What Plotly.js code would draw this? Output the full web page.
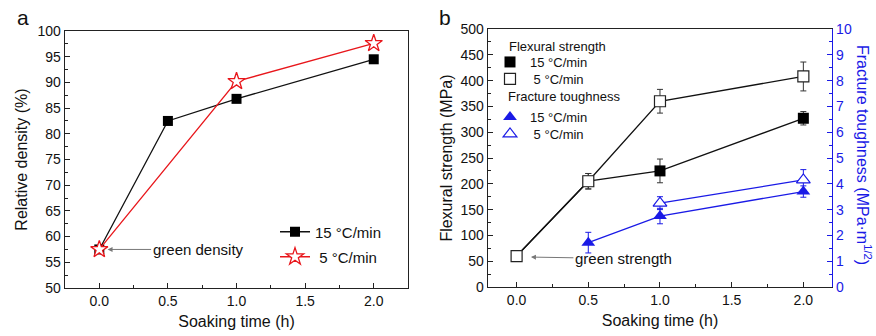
<!DOCTYPE html>
<html><head><meta charset="utf-8">
<script src="https://cdn.plot.ly/plotly-3.0.1.min.js"></script>
<style>html,body{margin:0;padding:0;background:#fff}#c{width:876px;height:336px}</style>
</head><body><div id="c"></div>
<script>
// Panel a: relative density
const timeA15 = [0, 0.5, 1.0, 2.0];
const dens15 = [57.5, 82.5, 86.8, 94.5];
const timeA5 = [0, 1.0, 2.0];
const dens5 = [57.5, 90.2, 97.6];
// Panel b: flexural strength (MPa)
const timeF = [0, 0.5, 1.0, 2.0];
const flex15 = [60, 205, 225, 327];
const flex15Err = [0, 15, 23, 13];
const flex5 = [60, 205, 360, 408];
const flex5Err = [4, 15, 23, 28];
// Panel b: fracture toughness (MPa·m^1/2)
const timeT15 = [0.5, 1.0, 2.0];
const tough15 = [1.72, 2.75, 3.7];
const tough15Err = [0.4, 0.3, 0.22];
const timeT5 = [1.0, 2.0];
const tough5 = [3.25, 4.15];
const tough5Err = [0.25, 0.4];

const FONT = 'Liberation Sans, Arial, sans-serif';
const BLUE = '#1a1ae6';

const traces = [
  {x: timeA15, y: dens15, mode: 'lines+markers', name: '15 °C/min', xaxis: 'x', yaxis: 'y',
   line: {color: '#111', width: 1.3}, marker: {symbol: 'square', size: 10, color: '#000'}, legend: 'legend'},
  {x: timeA5, y: dens5, mode: 'lines+markers', name: ' 5 °C/min', xaxis: 'x', yaxis: 'y',
   line: {color: '#e8161b', width: 1.3}, marker: {symbol: 'star', size: 13, color: '#fff', line: {color: '#e8161b', width: 1.3}}, legend: 'legend2'},
  // lines for flexural
  {x: timeF, y: flex15, mode: 'lines', xaxis: 'x2', yaxis: 'y2', showlegend: false, line: {color: '#111', width: 1.3}},
  {x: timeF, y: flex5, mode: 'lines', xaxis: 'x2', yaxis: 'y2', showlegend: false, line: {color: '#111', width: 1.3}},
  // toughness lines
  {x: timeT15, y: tough15, mode: 'lines', xaxis: 'x2', yaxis: 'y3', showlegend: false, line: {color: BLUE, width: 1.3}},
  {x: timeT5, y: tough5, mode: 'lines', xaxis: 'x2', yaxis: 'y3', showlegend: false, line: {color: BLUE, width: 1.3}},
  // markers
  {x: timeF.slice(1), y: flex15.slice(1), mode: 'markers', name: '15 °C/min', xaxis: 'x2', yaxis: 'y2',
   marker: {symbol: 'square', size: 11, color: '#000'},
   error_y: {type: 'data', array: flex15Err.slice(1), color: '#333', thickness: 1, width: 3},
   legend: 'legend3'},
  {x: timeF, y: flex5, mode: 'markers', name: ' 5 °C/min', xaxis: 'x2', yaxis: 'y2',
   marker: {symbol: 'square', size: 11, color: '#fff', line: {color: '#222', width: 1.2}},
   error_y: {type: 'data', array: flex5Err, color: '#333', thickness: 1, width: 3},
   legend: 'legend4'},
  {x: timeT15, y: tough15, mode: 'markers', name: '15 °C/min', xaxis: 'x2', yaxis: 'y3',
   marker: {symbol: 'triangle-up', size: 12, color: BLUE},
   error_y: {type: 'data', array: tough15Err, color: BLUE, thickness: 1, width: 3},
   legend: 'legend5'},
  {x: timeT5, y: tough5, mode: 'markers', name: ' 5 °C/min', xaxis: 'x2', yaxis: 'y3',
   marker: {symbol: 'triangle-up', size: 12, color: '#fff', line: {color: BLUE, width: 1.2}},
   error_y: {type: 'data', array: tough5Err, color: BLUE, thickness: 1, width: 3},
   legend: 'legend6'}
];

const tickFont = {family: FONT, size: 14, color: '#111'};
const titleFont = {family: FONT, size: 16, color: '#111'};
function xax(domain, range, anchor) {
  return {domain: domain, range: range, anchor: anchor, tickvals: [0, 0.5, 1, 1.5, 2], ticktext: ['0.0', '0.5', '1.0', '1.5', '2.0'],
    ticks: 'inside', ticklen: 5, tickcolor: '#222', linecolor: '#222', linewidth: 1.3, mirror: true, showline: true,
    showgrid: false, zeroline: false, tickfont: tickFont,
    minor: {dtick: 0.25, ticks: 'inside', ticklen: 3, tickcolor: '#222'},
    title: {text: 'Soaking time (h)', font: titleFont, standoff: 7}};
}
function leg(xpx, ypx, size) {
  return {x: xpx / 876, y: 1 - ypx / 336, xanchor: 'left', yanchor: 'middle', bgcolor: 'rgba(0,0,0,0)',
    font: {family: FONT, size: size, color: '#111'}, itemwidth: 30};
}

const layout = {
  width: 876, height: 336, margin: {l: 0, r: 0, t: 0, b: 0},
  paper_bgcolor: '#fff', plot_bgcolor: '#fff', font: {family: FONT},
  xaxis: xax([0.0742, 0.4658], [-0.25, 2.25], 'y'),
  yaxis: {domain: [0.1429, 0.9077], range: [50, 100], dtick: 5, anchor: 'x',
    ticks: 'inside', ticklen: 5, tickcolor: '#222', linecolor: '#222', linewidth: 1.3, mirror: true, showline: true,
    showgrid: false, zeroline: false, tickfont: tickFont,
    minor: {dtick: 2.5, ticks: 'inside', ticklen: 3, tickcolor: '#222'},
    title: {text: 'Relative density (%)', font: titleFont, standoff: 6}},
  xaxis2: xax([0.557, 0.9498], [-0.2, 2.2], 'y2'),
  yaxis2: {domain: [0.1458, 0.9137], range: [0, 500], dtick: 50, anchor: 'x2',
    ticks: 'inside', ticklen: 5, tickcolor: '#222', linecolor: '#222', linewidth: 1.3, showline: true,
    showgrid: false, zeroline: false, tickfont: tickFont,
    minor: {dtick: 25, ticks: 'inside', ticklen: 3, tickcolor: '#222'},
    title: {text: 'Flexural strength (MPa)', font: titleFont, standoff: 4}},
  yaxis3: {overlaying: 'y2', side: 'right', anchor: 'x2', range: [0, 10], dtick: 1,
    ticks: 'inside', ticklen: 5, tickcolor: BLUE, linecolor: BLUE, linewidth: 1.3, showline: true,
    showgrid: false, zeroline: false, tickfont: {family: FONT, size: 14, color: BLUE},
    minor: {dtick: 0.5, ticks: 'inside', ticklen: 3, tickcolor: BLUE}},
  legend: leg(275, 232, 15),
  legend2: leg(275, 257, 15),
  legend3: leg(490, 62, 13),
  legend4: leg(490, 79, 13),
  legend5: leg(490, 117, 13),
  legend6: leg(490, 134, 13),
  annotations: [
    {xref: 'x', yref: 'y', x: 0.06, y: 57.5, axref: 'x', ayref: 'y', ax: 0.72, ay: 57.5,
     text: 'green density', showarrow: true, arrowhead: 2, arrowsize: 1, arrowwidth: 1, arrowcolor: '#777',
     font: {family: FONT, size: 15, color: '#111'}},
    {xref: 'x2', yref: 'y2', x: 0.1, y: 58, axref: 'x2', ayref: 'y2', ax: 0.745, ay: 55,
     text: 'green strength', showarrow: true, arrowhead: 2, arrowsize: 1, arrowwidth: 1, arrowcolor: '#777',
     font: {family: FONT, size: 15, color: '#111'}},
    {xref: 'paper', yref: 'paper', x: 507 / 876, y: 1 - 47 / 336, xanchor: 'left', yanchor: 'middle',
     text: 'Flexural strength', showarrow: false, font: {family: FONT, size: 13, color: '#111'}},
    {xref: 'paper', yref: 'paper', x: 506 / 876, y: 1 - 97 / 336, xanchor: 'left', yanchor: 'middle',
     text: 'Fracture toughness', showarrow: false, font: {family: FONT, size: 13, color: '#111'}},
    {xref: 'paper', yref: 'paper', x: 864 / 876, y: 1 - 155 / 336, xanchor: 'center', yanchor: 'middle',
     text: 'Fracture toughness (MPa·m<sup>1/2</sup>)',
     textangle: 90, showarrow: false, font: {family: FONT, size: 16, color: BLUE}},
    {xref: 'paper', yref: 'paper', x: 23 / 876, y: 1 - 17 / 336, xanchor: 'center', yanchor: 'middle', text: 'a', showarrow: false,
     font: {family: FONT, size: 21, color: '#111'}},
    {xref: 'paper', yref: 'paper', x: 445 / 876, y: 1 - 17 / 336, xanchor: 'center', yanchor: 'middle', text: 'b', showarrow: false,
     font: {family: FONT, size: 21, color: '#111'}}
  ]
};

Plotly.newPlot('c', traces, layout, {displayModeBar: false, staticPlot: true});
</script></body></html>
